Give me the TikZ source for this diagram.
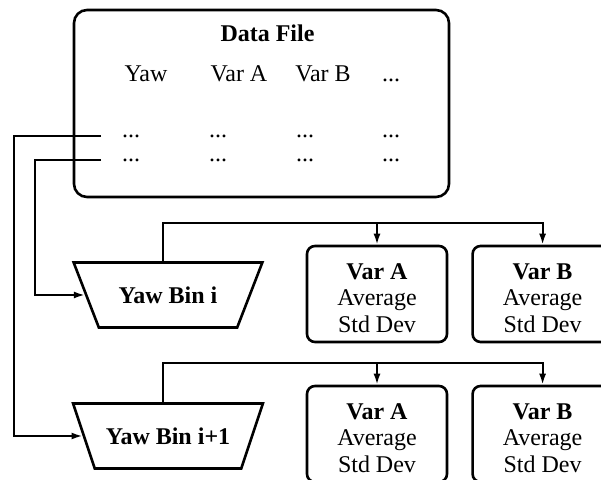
\documentclass[tikz,border=0pt]{standalone}
\usepackage{fontspec}
\setmainfont{Liberation Serif}
\usepackage{tikz}
\usetikzlibrary{arrows.meta,positioning,shapes.geometric}
\newcommand{\varstats}[1]{\rule{0pt}{12pt}\textbf{#1}\\Average\\Std Dev}

\begin{document}
\begin{tikzpicture}[x=0.5pt,y=-0.5pt,
  font=\fontsize{12}{13.25}\selectfont,
  filebox/.style={draw,line width=1.3pt,rounded corners=6.5pt,minimum width=187.5pt,minimum height=93.5pt},
  statbox/.style={draw,line width=1.3pt,rounded corners=4pt,minimum width=70pt,minimum height=48pt,align=center},
  binbox/.style={draw,line width=1.3pt,trapezium,shape border rotate=180,trapezium angle=56,trapezium stretches=true,minimum width=95pt,minimum height=32.5pt,font=\fontsize{12}{13.25}\selectfont\bfseries},
  cell/.style={anchor=base,inner sep=0pt},
  arrow/.style={-{Latex[length=5.5pt,width=3.5pt]},line width=1pt}
]
  \useasboundingbox (0,0) rectangle (601,480);
  % data file with its columns
  \node[filebox] (file) at (261.5,103.5) {};
  \node[cell,font=\fontsize{12}{13.25}\selectfont\bfseries] (title) at (267.5,42) {Data File};
  \node[cell] (hyaw) at (146,82) {Yaw};
  \node[cell] (hvara) at (239,82) {Var A};
  \node[cell] (hvarb) at (323,82) {Var B};
  \node[cell] (hmore) at (391,82) {...};
  \foreach \r/\y in {1/138,2/162}
    \foreach \c/\x in {1/131,2/218,3/305,4/391}
      \node[cell] (r\r c\c) at (\x,\y) {...};
  \coordinate (in1) at (101,136);
  \coordinate (in2) at (101,160);

  % yaw bins
  \node[binbox] (bin1) at (168,295) {Yaw Bin i};
  \node[binbox] (bin2) at (168,436) {Yaw Bin i+1};

  % statistics per variable
  \node[statbox] (vara1) at (377,294) {\varstats{Var A}};
  \node[statbox,right=11.5pt of vara1] (varb1) {\varstats{Var B}};
  \node[statbox] (vara2) at (377,434) {\varstats{Var A}};
  \node[statbox,right=11.5pt of vara2] (varb2) {\varstats{Var B}};

  \draw[arrow] (in2) -- ++(-66,0) |- (bin1);
  \draw[arrow] (in1) -- ++(-87,0) |- (bin2);

  \draw[arrow] ([xshift=-2.5pt]bin1.north) |- ([yshift=11pt]varb1.north) -- (varb1.north);
  \draw[arrow] ([yshift=11pt]vara1.north) -- (vara1.north);
  \draw[arrow] ([xshift=-2.5pt]bin2.north) |- ([yshift=11pt]varb2.north) -- (varb2.north);
  \draw[arrow] ([yshift=11pt]vara2.north) -- (vara2.north);
\end{tikzpicture}
\end{document}
